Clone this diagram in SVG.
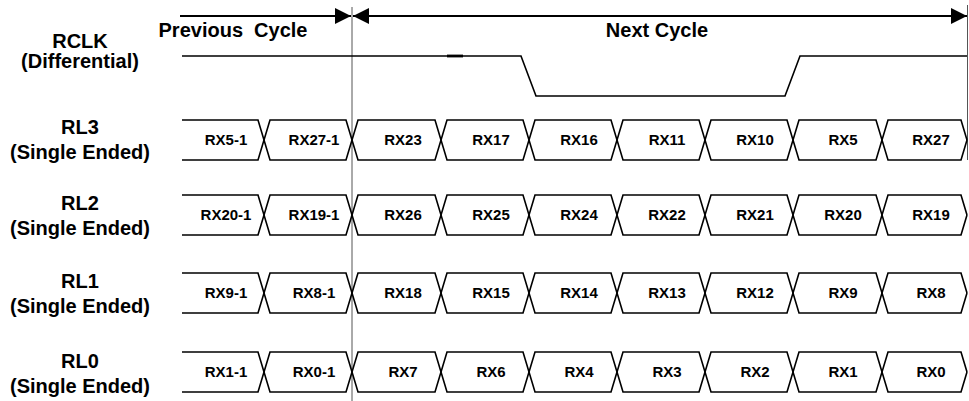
<svg xmlns="http://www.w3.org/2000/svg" width="969" height="401" viewBox="0 0 969 401">
<style>
.lbl{font-family:"Liberation Sans",Arial,sans-serif;font-weight:bold;font-size:20px;fill:#000;text-anchor:middle;white-space:pre}
.dat{font-family:"Liberation Sans",Arial,sans-serif;font-weight:bold;font-size:15px;fill:#000;text-anchor:middle}
.wave{fill:none;stroke:#000;stroke-width:1.6;stroke-linejoin:miter}
.arr{stroke:#000;stroke-width:2;fill:none}
.vline{stroke:#555;stroke-width:1}
</style>
<defs>
<marker id="ah" viewBox="0 0 16 16" refX="16" refY="8" markerWidth="16" markerHeight="16" markerUnits="userSpaceOnUse" orient="auto-start-reverse">
<path d="M0,0 L16,8 L0,16 z" fill="#000"/>
</marker>
</defs>
<rect width="969" height="401" fill="#fff"/>

<g id="cycle-lines">
<line class="vline" x1="352" y1="7" x2="352" y2="401"/>
<line class="vline" x1="967.5" y1="5" x2="967.5" y2="160"/>
</g>

<g id="connectors">
<line class="arr" x1="180" y1="16" x2="351" y2="16" marker-end="url(#ah)"/>
<line class="arr" x1="353" y1="16" x2="967" y2="16" marker-start="url(#ah)" marker-end="url(#ah)"/>
</g>

<g id="cycle-labels">
<text class="lbl" x="233" y="37" xml:space="preserve">Previous  Cycle</text>
<text class="lbl" x="657" y="37">Next Cycle</text>
</g>

<g id="rclk">
<text class="lbl" x="80" y="48">RCLK</text>
<text class="lbl" x="80" y="68">(Differential)</text>
<path class="wave" d="M182,56 H521 L536,96 H785 L800,56 H967"/>
<line x1="447" y1="56" x2="463" y2="56" stroke="#000" stroke-width="2.8"/>
</g>

<g id="rl3">
<text class="lbl" x="80" y="134">RL3</text>
<text class="lbl" x="80" y="159">(Single Ended)</text>
<path class="wave" d="M182,120 H258 L270,160 H346 L358,120 H435 L447,160 H523 L535,120 H611 L623,160 H699 L711,120 H787 L799,160 H876 L888,120 H961 L967,140"/>
<path class="wave" d="M182,160 H258 L270,120 H346 L358,160 H435 L447,120 H523 L535,160 H611 L623,120 H699 L711,160 H787 L799,120 H876 L888,160 H961 L967,140"/>
<text class="dat" x="226" y="145">RX5-1</text>
<text class="dat" x="314" y="145">RX27-1</text>
<text class="dat" x="403" y="145">RX23</text>
<text class="dat" x="491" y="145">RX17</text>
<text class="dat" x="579" y="145">RX16</text>
<text class="dat" x="667" y="145">RX11</text>
<text class="dat" x="755" y="145">RX10</text>
<text class="dat" x="843" y="145">RX5</text>
<text class="dat" x="931" y="145">RX27</text>
</g>

<g id="rl2">
<text class="lbl" x="80" y="210">RL2</text>
<text class="lbl" x="80" y="235">(Single Ended)</text>
<path class="wave" d="M182,195 H258 L270,235 H346 L358,195 H435 L447,235 H523 L535,195 H611 L623,235 H699 L711,195 H787 L799,235 H876 L888,195 H961 L967,215"/>
<path class="wave" d="M182,235 H258 L270,195 H346 L358,235 H435 L447,195 H523 L535,235 H611 L623,195 H699 L711,235 H787 L799,195 H876 L888,235 H961 L967,215"/>
<text class="dat" x="226" y="220">RX20-1</text>
<text class="dat" x="314" y="220">RX19-1</text>
<text class="dat" x="403" y="220">RX26</text>
<text class="dat" x="491" y="220">RX25</text>
<text class="dat" x="579" y="220">RX24</text>
<text class="dat" x="667" y="220">RX22</text>
<text class="dat" x="755" y="220">RX21</text>
<text class="dat" x="843" y="220">RX20</text>
<text class="dat" x="931" y="220">RX19</text>
</g>

<g id="rl1">
<text class="lbl" x="80" y="288">RL1</text>
<text class="lbl" x="80" y="313">(Single Ended)</text>
<path class="wave" d="M182,273 H258 L270,313 H346 L358,273 H435 L447,313 H523 L535,273 H611 L623,313 H699 L711,273 H787 L799,313 H876 L888,273 H961 L967,293"/>
<path class="wave" d="M182,313 H258 L270,273 H346 L358,313 H435 L447,273 H523 L535,313 H611 L623,273 H699 L711,313 H787 L799,273 H876 L888,313 H961 L967,293"/>
<text class="dat" x="226" y="298">RX9-1</text>
<text class="dat" x="314" y="298">RX8-1</text>
<text class="dat" x="403" y="298">RX18</text>
<text class="dat" x="491" y="298">RX15</text>
<text class="dat" x="579" y="298">RX14</text>
<text class="dat" x="667" y="298">RX13</text>
<text class="dat" x="755" y="298">RX12</text>
<text class="dat" x="843" y="298">RX9</text>
<text class="dat" x="931" y="298">RX8</text>
</g>

<g id="rl0">
<text class="lbl" x="80" y="368">RL0</text>
<text class="lbl" x="80" y="393">(Single Ended)</text>
<path class="wave" d="M182,352 H258 L270,392 H346 L358,352 H435 L447,392 H523 L535,352 H611 L623,392 H699 L711,352 H787 L799,392 H876 L888,352 H961 L967,372"/>
<path class="wave" d="M182,392 H258 L270,352 H346 L358,392 H435 L447,352 H523 L535,392 H611 L623,352 H699 L711,392 H787 L799,352 H876 L888,392 H961 L967,372"/>
<text class="dat" x="226" y="377">RX1-1</text>
<text class="dat" x="314" y="377">RX0-1</text>
<text class="dat" x="403" y="377">RX7</text>
<text class="dat" x="491" y="377">RX6</text>
<text class="dat" x="579" y="377">RX4</text>
<text class="dat" x="667" y="377">RX3</text>
<text class="dat" x="755" y="377">RX2</text>
<text class="dat" x="843" y="377">RX1</text>
<text class="dat" x="931" y="377">RX0</text>
</g>
</svg>
